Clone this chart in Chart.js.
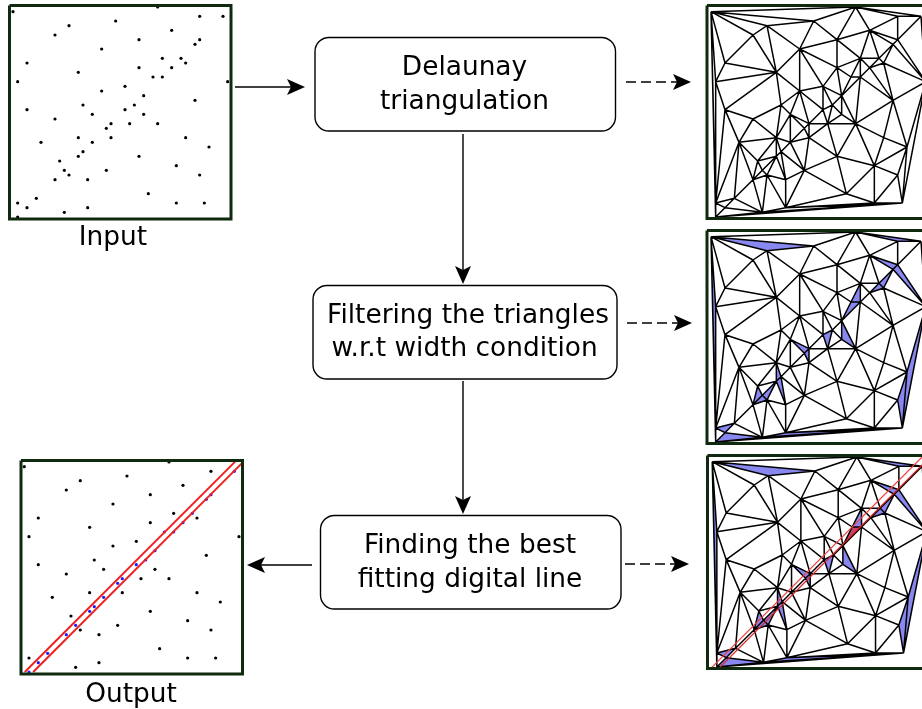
<!DOCTYPE html>
<html>
<head>
<meta charset="utf-8">
<style>
    html, body { margin: 0; background: #fff; }
    canvas { display: block; }
</style>
<script src="https://cdn.jsdelivr.net/npm/chart.js@4"></script>
</head>
<body>
<canvas id="myChart" width="922" height="709"></canvas>
<script>
// input points on their lattice (column, row), one entry per point
const pointCol = [0,31,40,45,22,12,34,9,27,40,39,19,32,36,3,37,27,34,14,30,32,1,46,24,19,28,39,15,26,3,24,17,28,9,21,25,31,20,14,21,37,6,17,42,15,14,27,10,35,11,20,12,40,9,16,29,5,1,35,41,3,16,11,1];
const pointRow = [1,0,2,2,3,4,5,6,7,7,8,9,11,11,12,12,13,13,14,15,15,16,16,17,18,19,20,21,21,22,22,23,23,24,25,25,25,26,28,28,28,29,29,30,31,32,32,33,34,35,35,36,36,37,37,40,41,42,42,42,43,43,44,45];

// triangulation edges, as pairs of point indices
const edges = [
    [0,1],[0,4],[0,5],[0,7],[0,14],[0,21],[0,57],[0,63],
    [1,2],[1,3],[1,4],[1,6],[1,8],
    [2,3],[2,6],[2,9],
    [3,9],[3,22],
    [4,5],[4,8],[4,11],
    [5,7],[5,11],[5,18],
    [6,8],[6,9],[6,10],[6,12],[6,13],
    [7,14],[7,18],
    [8,11],[8,12],[8,16],
    [9,10],[9,22],
    [10,13],[10,15],[10,22],
    [11,16],[11,18],[11,23],[11,24],
    [12,13],[12,16],[12,17],[12,19],[12,20],
    [13,15],[13,17],
    [14,18],[14,21],
    [15,17],[15,22],[15,26],
    [16,19],[16,23],[16,25],
    [17,20],[17,26],
    [18,21],[18,24],[18,27],[18,29],
    [19,20],[19,25],
    [20,25],[20,26],[20,36],
    [21,29],[21,57],
    [22,26],[22,43],[22,59],
    [23,24],[23,25],[23,28],[23,30],
    [24,27],[24,30],[24,31],[24,34],
    [25,28],[25,32],[25,36],
    [26,36],[26,40],[26,43],
    [27,31],[27,33],[27,38],
    [28,30],[28,32],[28,35],
    [29,33],[29,41],[29,57],
    [30,34],[30,35],
    [31,34],[31,37],[31,38],[31,42],
    [32,35],[32,36],
    [33,38],[33,41],
    [34,35],[34,37],[34,39],
    [35,36],[35,39],[35,46],
    [36,40],[36,46],[36,48],
    [37,39],[37,42],
    [38,41],[38,42],[38,44],[38,45],[38,47],
    [39,42],[39,46],[39,50],
    [40,43],[40,48],
    [41,47],[41,53],[41,56],[41,57],
    [42,44],[42,50],
    [43,48],[43,52],[43,59],
    [44,45],[44,50],[44,54],
    [45,47],[45,49],[45,51],[45,54],
    [46,48],[46,50],[46,55],
    [47,49],[47,53],
    [48,52],[48,55],[48,58],
    [49,51],[49,53],
    [50,54],[50,55],[50,61],
    [51,53],[51,54],[51,61],[51,62],
    [52,58],[52,59],
    [53,56],[53,62],
    [54,61],
    [55,58],[55,61],
    [56,57],[56,60],[56,62],
    [57,60],[57,63],
    [58,59],[58,61],
    [59,61],[59,62],[59,63],
    [60,62],[60,63],
    [61,62],
    [62,63]
];

// narrow triangles that the width condition picks out
const thinTriangles = [
    [0,4,5],[1,2,3],[0,21,57],[0,57,63],[6,9,10],[9,10,22],[10,13,15],[13,15,17],
    [12,19,20],[19,20,25],[25,32,36],[28,30,35],[31,34,37],[34,37,39],[38,44,45],[44,45,54],
    [47,49,53],[49,51,53],[45,49,51],[56,57,60],[60,62,63],[22,43,59],[43,52,59],[58,59,61],
    [59,61,62],[59,62,63]
];

// points caught between the two digital lines
const linePoints = [3,9,10,13,17,19,20,25,28,30,34,37,42,44,45,49,53,56,60,63];
// triangle crossed by the digital line in the last panel
const crossedTriangle = [19,20,25];

const stepLabels = [["Delaunay", "triangulation"], ["Filtering the triangles", "w.r.t width condition"], ["Finding the best", "fitting digital line"]];
const panelLabels = ["Input", "Output"];

// page layout, in canvas pixels
const STEP = 14 / 3;
const PANEL_INPUT = { x: 13, y: 7, frame: [9.5, 5.5, 231, 219] };
const PANEL_OUTPUT = { x: 24.3, y: 462, frame: [21, 460.5, 242.5, 674] };
const PANEL_TOP = { x: 711, y: 7, frame: [707, 5.5, 935, 218.5] };
const PANEL_MID = { x: 711, y: 232, frame: [707, 230.5, 935, 443.5] };
const PANEL_BOTTOM = { x: 712.2, y: 457, frame: [707.5, 455.5, 935, 668.5] };
const BOXES = [
    { x1: 315, y1: 37.5, x2: 615.5, y2: 131, labelX: [464.5, 464.5], labelY: [68, 102] },
    { x1: 313, y1: 285.5, x2: 617, y2: 379, labelX: [468, 464.5], labelY: [316, 349.5] },
    { x1: 320.5, y1: 515.5, x2: 621, y2: 609, labelX: [470, 470], labelY: [546, 580] }
];
const ARROWS = [
    { from: [235, 87], to: [305, 87], dashed: false },
    { from: [626, 82], to: [691, 82], dashed: true },
    { from: [463, 134], to: [463, 284], dashed: false },
    { from: [627, 323], to: [692, 323], dashed: true },
    { from: [463, 381], to: [463, 514], dashed: false },
    { from: [625, 564], to: [689, 564], dashed: true },
    { from: [312, 565], to: [247, 565], dashed: false }
];

const datasets = [];

const place = (panel, i) => ({ x: panel.x + pointCol[i] * STEP, y: panel.y + pointRow[i] * STEP });
const placeAt = (panel, col, row) => ({ x: panel.x + col * STEP, y: panel.y + row * STEP });

const addPath = (data, color, width, extra) => {
    datasets.push(Object.assign({ data: data, showLine: true, borderColor: color, borderWidth: width, pointRadius: 0, spanGaps: false, fill: false }, extra));
};

const addShape = (data, color) => {
    addPath(data, color, 0, { fill: "shape", backgroundColor: color });
};

const addTriangle = (panel, [a, b, c], color) => {
    addShape([place(panel, a), place(panel, b), place(panel, c), place(panel, a)], color);
};

const addFrame = (panel) => {
    const [x1, y1, x2, y2] = panel.frame;
    addPath([{ x: x1, y: y1 }, { x: x2, y: y1 }, { x: x2, y: y2 }, { x: x1, y: y2 }, { x: x1, y: y1 }], "#0f2a0f", 3);
};

const addEdges = (panel) => {
    const data = [];
    edges.forEach(([a, b]) => {
        data.push(place(panel, a), place(panel, b), { x: null, y: null });
    });
    addPath(data, "#000", 1.5);
};

const addPoints = (panel, skip) => {
    const data = [];
    for (let i = 0; i < pointCol.length; i++) {
        if (!skip.includes(i)) data.push(place(panel, i));
    }
    datasets.push({ data: data, showLine: false, pointRadius: 1.6, pointBorderWidth: 0, pointBackgroundColor: "#000" });
};

const addArrow = (arrow) => {
    const [x1, y1] = arrow.from;
    const [x2, y2] = arrow.to;
    const len = Math.hypot(x2 - x1, y2 - y1);
    const ux = (x2 - x1) / len;
    const uy = (y2 - y1) / len;
    const base = { x: x2 - ux * 14, y: y2 - uy * 14 };
    addPath([{ x: x1, y: y1 }, base], "#000", 1.4, arrow.dashed ? { borderDash: [10, 5] } : {});
    addShape([
        { x: x2, y: y2 },
        { x: x2 - ux * 18 - uy * 8, y: y2 - uy * 18 + ux * 8 },
        base,
        { x: x2 - ux * 18 + uy * 8, y: y2 - uy * 18 - ux * 8 },
        { x: x2, y: y2 }
    ], "#000");
};

// panels
addPoints(PANEL_INPUT, []);
addFrame(PANEL_INPUT);

addEdges(PANEL_TOP);
addFrame(PANEL_TOP);

[PANEL_MID, PANEL_BOTTOM].forEach(panel => {
    thinTriangles.forEach(triangle => addTriangle(panel, triangle, "#8888f0"));
});
addTriangle(PANEL_BOTTOM, crossedTriangle, "#c8446c");
addEdges(PANEL_MID);
addFrame(PANEL_MID);
addEdges(PANEL_BOTTOM);
addPath([placeAt(PANEL_BOTTOM, -0.4, 45.4), placeAt(PANEL_BOTTOM, 47, -2)], "#f04040", 1.3);
addPath([placeAt(PANEL_BOTTOM, 1.3, 45.4), placeAt(PANEL_BOTTOM, 48.7, -2)], "#e02020", 1.3);
addFrame(PANEL_BOTTOM);

addPoints(PANEL_OUTPUT, linePoints);
datasets.push({ data: linePoints.map(i => place(PANEL_OUTPUT, i)), showLine: false, pointRadius: 1.6, pointBorderWidth: 0, pointBackgroundColor: "#1a1aff" });
addPath([placeAt(PANEL_OUTPUT, 0.1, 45), placeAt(PANEL_OUTPUT, 45.5, -0.4)], "#f02020", 2);
addPath([placeAt(PANEL_OUTPUT, 1.9, 45), placeAt(PANEL_OUTPUT, 46.6, 0.3)], "#f02020", 2);
addFrame(PANEL_OUTPUT);

ARROWS.forEach(addArrow);

// datasets are drawn from last to first, so flip the list
datasets.reverse();

const labelsPlugin = {
    id: "labels",
    afterDraw(chart) {
        const { ctx, scales: { x, y } } = chart;
        ctx.save();
        ctx.strokeStyle = "#000";
        ctx.lineWidth = 1.4;
        ctx.fillStyle = "#000";
        ctx.font = "26.4px 'DejaVu Sans'";
        ctx.textAlign = "center";
        ctx.textBaseline = "middle";
        BOXES.forEach((box, i) => {
            const left = x.getPixelForValue(box.x1);
            const top = y.getPixelForValue(box.y1);
            ctx.beginPath();
            ctx.roundRect(left, top, x.getPixelForValue(box.x2) - left, y.getPixelForValue(box.y2) - top, 14);
            ctx.stroke();
            stepLabels[i].forEach((line, j) => {
                ctx.fillText(line, x.getPixelForValue(box.labelX[j]), y.getPixelForValue(box.labelY[j]));
            });
        });
        ctx.fillText(panelLabels[0], x.getPixelForValue(113), y.getPixelForValue(238));
        ctx.fillText(panelLabels[1], x.getPixelForValue(131), y.getPixelForValue(695));
        ctx.restore();
    }
};

new Chart("myChart", {
    type: "scatter",
    data: { datasets: datasets },
    options: {
        responsive: false,
        animation: false,
        layout: { padding: 0, autoPadding: false },
        scales: {
            x: { type: "linear", display: false, min: 0, max: 922 },
            y: { type: "linear", display: false, min: 0, max: 709, reverse: true }
        },
        plugins: {
            legend: { display: false },
            title: { display: false },
            tooltip: { enabled: false }
        }
    },
    plugins: [labelsPlugin]
});
</script>
</body>
</html>
